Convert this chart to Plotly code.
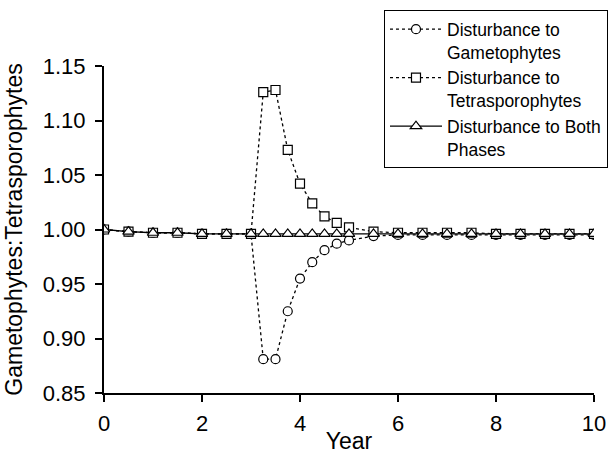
import plotly.graph_objects as go

years = [0, 0.5, 1, 1.5, 2, 2.5, 3, 3.25, 3.5, 3.75, 4, 4.25, 4.5, 4.75, 5,
         5.5, 6, 6.5, 7, 7.5, 8, 8.5, 9, 9.5, 10]
gameto = [1.000, 0.998, 0.997, 0.997, 0.996, 0.996, 0.996, 0.881, 0.881, 0.925,
          0.955, 0.970, 0.981, 0.987, 0.990, 0.994, 0.995, 0.995, 0.995, 0.995,
          0.995, 0.995, 0.995, 0.995, 0.995]
tetra = [1.000, 0.998, 0.997, 0.997, 0.996, 0.996, 0.996, 1.126, 1.128, 1.073,
         1.042, 1.024, 1.012, 1.006, 1.002, 0.998, 0.997, 0.997, 0.997, 0.997,
         0.996, 0.996, 0.996, 0.996, 0.996]
both = [1.000, 0.998, 0.997, 0.997, 0.996, 0.996, 0.996, 0.996, 0.996, 0.996,
        0.996, 0.996, 0.996, 0.996, 0.996, 0.996, 0.996, 0.996, 0.996, 0.996,
        0.996, 0.996, 0.996, 0.996, 0.996]

names = ["Disturbance to<br>Gametophytes",
         "Disturbance to<br>Tetrasporophytes",
         "Disturbance to Both<br>Phases"]
xticks = [0, 2, 4, 6, 8, 10]
yticks = [0.85, 0.90, 0.95, 1.00, 1.05, 1.10, 1.15]

FONT = "Liberation Sans, Arial, sans-serif"

fig = go.Figure()
fig.add_trace(go.Scatter(
    x=years, y=gameto, name=names[0], mode="lines+markers",
    line=dict(color="black", width=1.3, dash="dot"),
    marker=dict(symbol="circle", size=9, color="white",
                line=dict(color="black", width=1.2))))
fig.add_trace(go.Scatter(
    x=years, y=tetra, name=names[1], mode="lines+markers",
    line=dict(color="black", width=1.3, dash="dot"),
    marker=dict(symbol="square", size=9, color="white",
                line=dict(color="black", width=1.2))))
fig.add_trace(go.Scatter(
    x=years, y=both, name=names[2], mode="lines+markers",
    line=dict(color="black", width=1.3),
    marker=dict(symbol="triangle-up", size=10, color="white",
                line=dict(color="black", width=1.2))))

fig.update_layout(
    width=612, height=454,
    margin=dict(l=104, r=18, t=66, b=61, autoexpand=False),
    paper_bgcolor="white", plot_bgcolor="white",
    font=dict(family=FONT, size=18, color="black"),
    showlegend=True,
    legend=dict(x=0.571, y=1.171, xanchor="left", yanchor="top",
                bordercolor="black", borderwidth=1.2, bgcolor="white",
                font=dict(family=FONT, size=17.5, color="black"),
                valign="top", tracegroupgap=0, itemwidth=52),
    xaxis=dict(range=[0, 10], tickvals=xticks,
               showline=True, linecolor="black", linewidth=2,
               ticks="outside", ticklen=7, tickwidth=2, tickcolor="black",
               showgrid=False, zeroline=False, ticklabelstandoff=3,
               tickfont=dict(size=22),
               title=dict(text="Year", font=dict(size=23), standoff=0)),
    yaxis=dict(range=[0.85, 1.15], tickvals=yticks, tickformat=".2f",
               showline=True, linecolor="black", linewidth=2,
               ticks="outside", ticklen=7, tickwidth=2, tickcolor="black",
               showgrid=False, zeroline=False, ticklabelstandoff=5,
               tickfont=dict(size=22),
               title=dict(text="Gametophytes:Tetrasporophytes",
                          font=dict(size=23), standoff=14)),
)

fig.write_html("out.html")
